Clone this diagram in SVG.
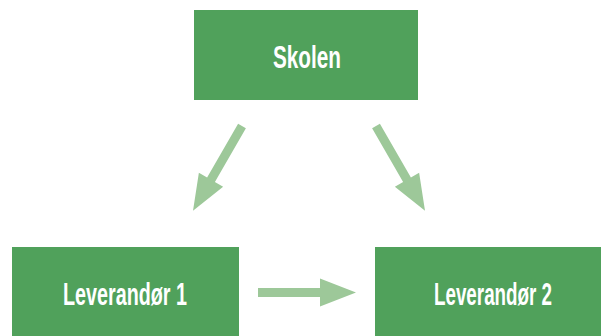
<svg xmlns="http://www.w3.org/2000/svg" width="601" height="336" viewBox="0 0 601 336">
  <style>
    .box { fill: #50a15b; }
    .label { fill: #ffffff; font-family: "Liberation Sans", "DejaVu Sans", sans-serif; font-weight: bold; font-size: 31px; text-anchor: middle; }
    .arrow { fill: #9dc899; }
  </style>
  <defs>
    <!-- block arrow pointing along +x, tail centred at origin -->
    <path id="blockArrow" d="M0,-4.5 H62 V-14 L98,0 L62,14 V4.5 H0 Z"/>
  </defs>

  <g id="node-skolen">
    <rect class="box" x="194" y="10" width="224" height="90"/>
    <text class="label" x="307" y="68" textLength="68" lengthAdjust="spacingAndGlyphs">Skolen</text>
  </g>

  <g id="node-leverandor1">
    <rect class="box" x="12" y="247" width="227" height="89"/>
    <text class="label" x="125" y="305" textLength="124" lengthAdjust="spacingAndGlyphs">Leverandør 1</text>
  </g>

  <g id="node-leverandor2">
    <rect class="box" x="375" y="247" width="226" height="89"/>
    <text class="label" x="493" y="305" textLength="118" lengthAdjust="spacingAndGlyphs">Leverandør 2</text>
  </g>

  <g id="connectors" class="arrow">
    <use href="#blockArrow" transform="translate(242,126) rotate(120)"/>
    <use href="#blockArrow" transform="translate(376,126) rotate(60)"/>
    <use href="#blockArrow" transform="translate(258,292.5)"/>
  </g>
</svg>
